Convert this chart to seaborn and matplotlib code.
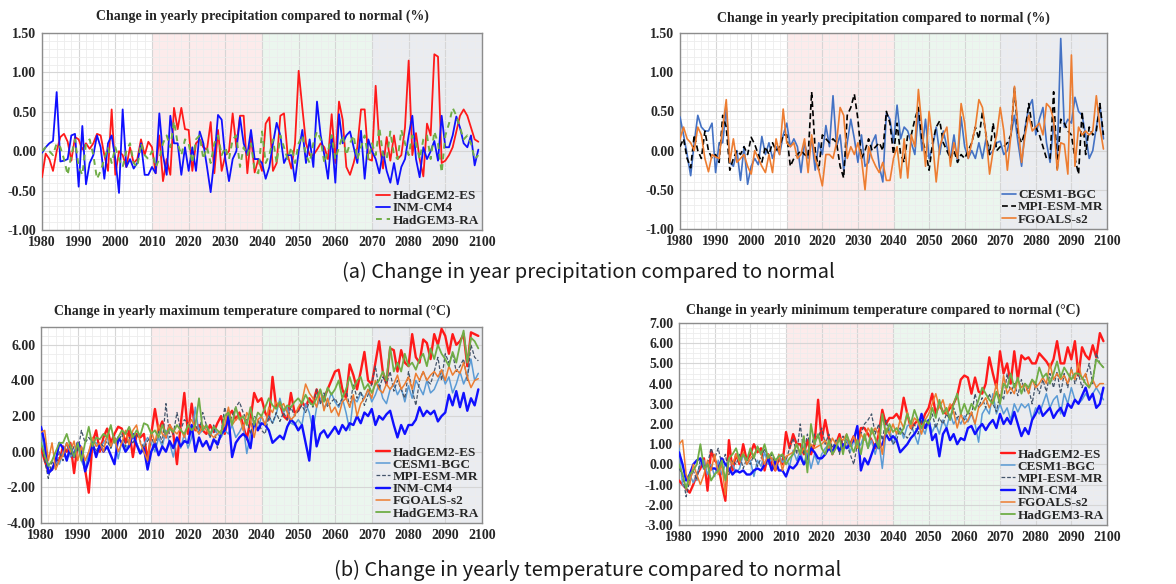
import numpy as np
import matplotlib
matplotlib.use("Agg")
import matplotlib.pyplot as plt
from matplotlib.ticker import MultipleLocator, FormatStrFormatter
import seaborn as sns

YEARS = list(range(1980, 2100))

# ---- (a) precipitation change, left panel ----
PRL_HADGEM2 = [
    -0.33, -0.03, -0.10, -0.25, 0.00, 0.18, 0.22, 0.12, -0.12, 0.18,
    0.15, 0.02, 0.10, 0.03, 0.10, 0.22, 0.20, -0.05, -0.25, 0.53,
    -0.30, 0.00, -0.05, -0.20, 0.05, -0.15, -0.10, 0.15, -0.05, 0.12,
    0.05, -0.28, 0.20, -0.38, -0.10, -0.30, 0.55, 0.28, 0.55, 0.28,
    0.27, -0.25, 0.10, 0.15, 0.05, 0.02, 0.37, -0.28, 0.27, -0.25,
    -0.05, 0.00, 0.48, 0.05, 0.45, 0.45, -0.28, 0.20, -0.27, -0.10,
    -0.25, 0.35, 0.43, -0.25, -0.15, 0.45, 0.48, -0.05, -0.22, 0.10,
    1.02, 0.55, 0.10, -0.05, -0.05, 0.02, 0.10, 0.05, -0.10, 0.47,
    -0.15, 0.63, 0.40, -0.20, -0.30, -0.15, 0.05, 0.53, 0.53, -0.10,
    -0.12, 0.83, 0.10, -0.22, 0.18, -0.12, 0.20, -0.10, -0.05, 0.30,
    1.15, -0.05, 0.23, -0.10, -0.32, 0.35, 0.20, 1.23, 1.20, -0.15,
    -0.12, -0.05, 0.05, 0.25, 0.45, 0.53, 0.45, 0.30, 0.15, 0.12,
]
PRL_INMCM4 = [
    -0.02, 0.05, 0.10, 0.13, 0.75, -0.13, -0.12, -0.10, 0.20, 0.22,
    -0.45, 0.32, -0.42, -0.15, -0.05, 0.20, 0.05, -0.35, 0.10, 0.20,
    -0.10, -0.53, 0.53, -0.20, -0.10, -0.22, -0.15, 0.10, -0.30, -0.30,
    -0.20, -0.28, 0.48, -0.05, -0.30, 0.45, 0.10, 0.10, -0.30, 0.05,
    -0.25, 0.05, -0.25, 0.25, 0.10, -0.20, -0.52, -0.10, 0.46, 0.40,
    -0.10, -0.38, -0.10, 0.00, 0.43, 0.10, -0.05, 0.27, -0.10, -0.10,
    -0.15, -0.35, -0.20, 0.10, 0.36, 0.20, -0.15, -0.05, -0.05, -0.38,
    0.00, 0.27, -0.15, 0.15, -0.20, 0.63, 0.20, -0.05, -0.35, 0.20,
    -0.40, 0.47, 0.10, 0.20, 0.25, 0.05, -0.15, 0.26, -0.35, 0.15,
    0.00, -0.10, -0.28, 0.00, -0.25, -0.40, -0.15, -0.42, -0.20, -0.10,
    0.20, 0.45, -0.10, -0.33, 0.05, -0.10, 0.00, 0.13, -0.12, 0.45,
    0.05, 0.05, 0.20, 0.44, 0.30, 0.10, 0.05, 0.20, -0.18, 0.02,
]
PRL_HADGEM3 = [
    0.00, 0.05, 0.00, -0.05, 0.10, 0.05, -0.10, -0.30, -0.05, 0.15,
    -0.20, -0.30, 0.10, 0.15, -0.05, -0.35, -0.25, -0.10, 0.05, -0.15,
    0.05, -0.10, -0.20, 0.00, 0.10, -0.15, -0.20, 0.10, -0.05, -0.10,
    0.00, -0.20, -0.10, 0.10, 0.20, 0.05, 0.38, 0.10, -0.05, 0.15,
    0.10, -0.15, 0.15, 0.20, -0.10, 0.05, -0.15, 0.10, 0.20, -0.05,
    0.05, -0.10, 0.15, 0.20, -0.20, 0.05, -0.05, 0.10, -0.25, -0.28,
    0.25, -0.15, -0.05, 0.15, -0.15, 0.20, 0.05, -0.10, 0.05, -0.15,
    0.10, 0.20, -0.05, -0.15, 0.10, 0.25, 0.15, -0.15, 0.00, 0.20,
    -0.10, 0.05, 0.20, -0.05, 0.10, 0.20, -0.10, 0.05, 0.20, -0.10,
    0.10, -0.05, 0.30, -0.05, -0.10, 0.25, -0.05, -0.10, 0.27, 0.10,
    -0.05, 0.20, 0.10, -0.10, 0.15, 0.20, -0.10, 0.25, 0.10, -0.27,
    0.20, 0.35, 0.55, 0.45, 0.30, 0.15, 0.20, 0.10, -0.10, -0.05,
]

# ---- (a) precipitation change, right panel ----
PRR_CESM1 = [
    0.43, 0.20, -0.05, -0.32, 0.10, 0.45, 0.30, 0.25, 0.25, 0.35,
    -0.28, 0.10, 0.10, 0.55, -0.15, -0.20, 0.00, -0.38, 0.05, -0.43,
    -0.20, -0.10, -0.18, 0.18, -0.05, 0.10, -0.10, 0.05, -0.05, 0.20,
    0.35, 0.05, 0.15, 0.05, -0.28, 0.10, -0.10, 0.15, -0.25, 0.10,
    -0.05, 0.32, 0.05, 0.70, 0.05, 0.20, -0.25, 0.10, 0.40, 0.15,
    -0.15, 0.20, -0.20, -0.15, 0.10, 0.20, -0.20, -0.40, 0.48, 0.40,
    0.10, 0.58, 0.15, 0.30, 0.25, 0.10, -0.05, 0.50, 0.00, 0.40,
    -0.10, 0.05, 0.30, -0.05, 0.25, 0.05, -0.10, 0.20, -0.15, 0.43,
    0.05, -0.10, 0.00, -0.10, 0.10, -0.10, 0.15, -0.05, 0.00, 0.10,
    0.12, -0.05, 0.00, 0.20, 0.45, 0.10, -0.20, 0.30, 0.55, 0.65,
    0.20, 0.40, 0.55, 0.10, -0.15, 0.35, -0.10, 1.43, 0.30, 0.40,
    0.35, 0.68, 0.50, 0.45, 0.20, -0.10, 0.00, 0.30, 0.58, 0.15,
]
PRR_MPI = [
    0.05, 0.15, -0.10, -0.22, 0.20, 0.00, -0.10, 0.25, 0.00, -0.10,
    -0.05, -0.15, 0.45, 0.30, -0.25, -0.10, 0.00, -0.05, 0.05, -0.05,
    0.17, 0.08, -0.05, -0.15, 0.05, -0.05, 0.10, 0.00, 0.05, 0.20,
    0.20, -0.20, -0.10, -0.05, 0.00, -0.05, -0.08, 0.75, 0.00, -0.25,
    0.20, 0.15, 0.10, 0.15, 0.10, -0.20, -0.35, 0.45, 0.55, 0.72,
    0.40, -0.10, 0.00, 0.15, 0.00, 0.05, 0.10, 0.00, 0.50, 0.35,
    -0.05, 0.35, -0.05, -0.15, 0.20, 0.20, 0.40, 0.55, 0.15, 0.00,
    -0.25, 0.10, 0.30, 0.38, 0.10, 0.00, -0.10, 0.00, -0.15, -0.05,
    -0.10, 0.00, 0.10, 0.30, 0.15, 0.50, 0.20, -0.05, 0.35, 0.00,
    0.05, 0.05, 0.10, 0.20, 0.80, 0.20, 0.10, 0.25, 0.60, 0.30,
    0.30, 0.20, 0.05, -0.10, -0.10, 0.75, -0.25, 0.40, 0.35, 0.25,
    0.20, -0.10, -0.30, 0.50, -0.05, 0.30, 0.20, 0.25, 0.60, 0.20,
]
PRR_FGOALS = [
    0.15, 0.30, 0.15, 0.10, 0.00, 0.30, 0.20, -0.10, -0.27, -0.05,
    -0.08, -0.10, 0.30, 0.65, -0.15, 0.15, -0.15, -0.10, -0.05, -0.20,
    -0.30, 0.00, -0.10, -0.20, -0.28, -0.05, -0.28, 0.15, -0.05, 0.53,
    0.10, 0.05, 0.10, -0.10, -0.05, 0.15, -0.28, 0.20, -0.10, -0.25,
    -0.45, -0.05, -0.05, -0.10, 0.10, 0.55, 0.45, -0.10, 0.05, -0.05,
    0.10, -0.10, -0.50, 0.05, -0.10, -0.20, -0.28, -0.15, -0.38, -0.38,
    -0.10, 0.05, -0.35, 0.15, -0.35, 0.20, 0.05, 0.78, 0.30, -0.20,
    0.50, 0.10, -0.40, 0.05, 0.20, 0.30, -0.20, 0.10, -0.10, 0.60,
    0.35, -0.10, 0.10, 0.30, 0.65, 0.55, 0.20, -0.30, 0.00, 0.20,
    0.55, 0.25, -0.25, 0.20, 0.82, 0.30, -0.15, 0.20, 0.45, 0.25,
    0.30, 0.35, 0.20, 0.60, 0.55, 0.40, -0.25, 0.10, 0.08, -0.30,
    1.22, -0.20, 0.30, 0.20, 0.25, 0.20, 0.25, 0.70, 0.30, 0.02,
]

# ---- (b) maximum temperature change ----
TMX_HADGEM2 = [
    0.2, -0.5, -1.1, -1.0, -0.5, -0.5, 0.3, 0.0, 0.5, -1.2,
    0.5, 0.0, -1.0, -2.3, 0.5, 1.2, 0.0, 0.8, 1.3, 0.5,
    1.0, 1.4, 1.3, 0.5, 1.2, -0.3, 1.0, 0.8, 1.0, -0.5,
    1.0, 2.4, 1.2, 1.7, 0.8, 1.5, 1.0, -0.7, 1.5, 3.3,
    1.0, 2.7, 1.2, 1.5, 1.2, 1.0, 1.5, 1.1, 1.6, 2.0,
    1.0, 2.0, 2.3, 1.8, 2.2, 1.5, 0.7, 1.8, 3.3, 2.8,
    3.0, 2.2, 1.8, 4.2, 2.5, 2.7, 2.0, 1.8, 3.3, 2.2,
    2.3, 2.8, 2.5, 3.0, 2.7, 3.5, 2.8, 3.0, 3.5, 4.0,
    4.5, 4.6, 3.5, 3.0, 4.9, 4.3, 3.5, 4.5, 5.6, 4.0,
    3.8, 5.0, 6.2, 4.5, 3.8, 5.8, 5.7, 4.5, 5.7, 5.0,
    4.8, 6.6, 5.3, 5.0, 6.3, 6.1, 5.2, 6.6, 6.0, 6.9,
    6.5, 5.5, 6.6, 6.0, 6.2, 6.6, 4.8, 6.7, 6.6, 6.5,
]
TMX_CESM1 = [
    1.2, 0.0, -0.8, -1.0, -0.5, -0.7, 0.0, 0.5, -0.3, 0.0,
    0.5, -0.5, -1.0, 0.0, 0.6, 0.5, 0.2, 0.5, 0.8, 0.2,
    0.8, -0.4, 0.6, 0.2, 0.4, 1.0, 0.5, 0.0, 0.4, 0.8,
    0.5, 0.0, 0.8, 0.3, 1.2, 0.5, -0.3, 0.8, 0.2, 1.0,
    0.2, 0.8, 2.5, 1.0, 1.2, 1.5, 0.8, 1.4, 1.0, 0.8,
    1.2, 1.0, 1.5, 0.8, 1.1, 1.5, -0.1, 1.0, 1.5, 1.2,
    2.0, 1.5, 2.0, 1.6, 2.1, 3.0, 2.2, 2.5, 1.6, 1.5,
    1.8, 1.5, 2.7, 2.2, 1.2, 2.5, 3.0, 2.5, 2.7, 3.3,
    2.8, 2.5, 3.0, 2.2, 1.2, 3.0, 2.8, 3.3, 3.0, 3.5,
    2.8, 3.2, 3.8, 3.0, 2.7, 3.5, 3.8, 3.2, 3.6, 2.8,
    3.7, 3.0, 4.0, 3.6, 3.2, 4.0, 3.3, 3.5, 4.0, 4.5,
    3.8, 4.2, 3.3, 3.8, 4.5, 3.8, 4.3, 5.2, 4.0, 4.4,
]
TMX_MPI = [
    0.5, -0.5, -1.5, -0.5, -1.0, 0.0, -0.5, 0.5, -0.2, 0.3,
    0.0, 1.2, 0.5, 0.8, 0.5, 0.0, 0.5, 0.3, 0.6, 0.2,
    0.8, 0.5, 1.0, 0.3, 0.8, 0.5, 1.0, 0.6, 0.2, 0.6,
    0.9, 0.2, 1.2, 0.5, 2.7, 0.8, 1.0, 2.2, 1.2, 1.8,
    1.6, 1.2, 1.5, 1.0, 2.2, 1.5, 0.8, 1.5, 0.2, 1.0,
    2.5, 1.5, 2.0, 2.5, 2.8, 2.2, 1.8, 1.0, 2.0, 1.8,
    1.2, 1.0, 2.0, 1.6, 2.2, 1.7, 2.2, 1.8, 2.5, 2.0,
    2.3, 2.6, 2.2, 2.8, 2.5, 3.5, 2.7, 3.3, 2.5, 2.8,
    3.0, 2.6, 3.0, 3.5, 2.5, 3.8, 3.0, 3.4, 2.6, 3.2,
    3.8, 4.8, 3.5, 4.2, 3.8, 4.5, 3.4, 4.0, 3.5, 3.0,
    4.5, 3.5, 2.6, 4.0, 4.5, 4.0, 3.8, 4.5, 5.3, 4.0,
    5.5, 5.0, 5.5, 4.5, 4.8, 5.2, 4.0, 6.0, 5.3, 5.1,
]
TMX_INMCM4 = [
    1.4, 0.5, -1.2, -1.0, -0.5, 0.5, 0.2, -0.5, 0.3, -0.3,
    0.5, 0.2, -1.1, -0.5, 0.5, -0.3, 0.4, 0.0, 0.3, -0.2,
    -0.7, 0.8, 0.5, 0.0, 0.3, 1.0, 0.4, -0.1, 0.2, -1.0,
    0.0, 0.5, -0.2, 0.3, 0.0, 0.6, 0.2, 0.8, 0.3, 0.6,
    0.5, 1.5, 0.0, 0.8, 0.3, 0.6, 0.1, 0.7, 0.4, 1.0,
    1.2, 2.0, -0.3, 0.5, 0.8, 1.0, 0.8, 0.2, 1.7, 1.2,
    1.6, 1.5, 1.2, 0.5, 0.7, 0.9, 0.7, 1.4, 1.8, 1.6,
    1.2, 1.5, 0.5, -0.5, 2.0, 0.3, 1.0, 1.2, 0.8, 1.1,
    1.4, 1.0, 1.5, 1.2, 1.6, 1.5, 2.0, 1.6, 2.2, 2.0,
    2.4, 1.5, 2.0, 1.8, 2.1, 2.3, 1.5, 0.8, 1.5, 1.0,
    1.5, 1.5, 1.8, 2.5, 2.0, 2.3, 2.1, 2.3, 1.7, 2.0,
    2.2, 3.2, 2.6, 3.4, 2.5, 3.3, 2.3, 3.0, 2.6, 3.5,
]
TMX_FGOALS = [
    1.1, 1.2, -0.5, 0.5, -1.0, -0.5, -0.2, 0.5, 0.0, 0.6,
    -0.5, 0.3, -0.5, 0.0, 0.8, 0.3, 0.5, 0.0, 1.0, 0.3,
    0.8, 0.0, 0.5, 1.2, 0.4, 1.2, 1.5, 0.5, 0.0, -0.5,
    1.2, 0.5, 1.5, 1.0, 0.8, 1.5, 1.2, 1.0, 1.3, 0.8,
    1.5, 1.8, 1.3, 1.0, 1.5, 1.2, 1.0, 0.8, 1.0, 1.2,
    1.5, 2.5, 1.5, 1.8, 2.0, 1.2, 2.2, 1.8, 0.8, 1.8,
    2.0, 1.5, 2.5, 2.2, 2.8, 2.5, 2.7, 2.2, 1.8, 2.0,
    2.5, 2.8, 3.8, 3.3, 3.0, 2.5, 3.5, 2.3, 3.0, 2.2,
    2.5, 2.0, 2.8, 3.0, 2.5, 3.2, 2.0, 2.7, 3.0, 3.5,
    3.0, 4.0, 3.5, 3.3, 3.8, 3.5, 3.8, 4.3, 3.5, 3.8,
    4.2, 3.5, 4.4, 4.0, 4.5, 4.0, 4.3, 4.5, 4.2, 4.6,
    4.0, 4.8, 4.3, 4.6, 4.4, 5.0, 4.2, 3.6, 4.0, 4.1,
]
TMX_HADGEM3 = [
    0.5, -0.2, -0.8, -0.5, 0.0, 0.5, 0.5, 1.0, 0.3, -0.3,
    0.5, -0.5, 0.5, 1.4, 0.3, 0.8, 0.7, 1.0, 0.8, 1.5,
    0.5, 0.8, 1.2, 1.0, 1.4, 0.8, 1.2, 0.9, 1.6, 1.5,
    1.0, 1.2, 0.8, 1.5, 1.0, 1.3, 1.1, 1.5, 1.2, 1.0,
    1.5, 1.2, 1.5, 3.0, 1.2, 1.5, 1.0, 1.4, 1.2, 1.0,
    2.0, 2.2, 1.5, 2.5, 1.8, 2.0, 1.5, 2.5, 1.5, 2.2,
    2.0, 2.5, 3.0, 2.6, 2.4, 2.8, 2.3, 2.6, 2.5, 2.8,
    3.0, 2.7, 3.2, 2.8, 2.6, 3.0, 3.5, 2.8, 3.6, 3.2,
    3.5, 4.0, 3.0, 3.5, 4.2, 3.5, 4.0, 4.2, 3.5, 3.8,
    3.3, 3.8, 4.0, 4.5, 4.0, 5.9, 4.5, 5.0, 4.5, 5.5,
    4.8, 5.0, 4.6, 5.2, 5.5, 4.8, 5.8, 5.2, 6.0, 5.5,
    5.2, 4.8, 5.6, 5.0, 6.0, 6.8, 5.0, 6.4, 6.2, 5.8,
]

# ---- (b) minimum temperature change ----
TMN_HADGEM2 = [
    -0.8, -1.0, -1.2, -1.4, -1.0, -0.5, -0.2, 0.3, -1.3, 0.7,
    0.2, 0.0, -1.0, -1.8, 1.2, -0.3, 0.5, 0.0, 1.0, 0.2,
    0.5, 1.0, 0.6, 0.8, -0.3, 0.5, 0.0, -0.3, 0.3, 0.0,
    1.6, 0.8, 1.5, 1.0, 1.0, 0.5, 1.2, 0.5, 1.0, 3.2,
    1.2, 2.2, 1.3, 0.5, 1.0, 1.5, 0.8, 1.2, 1.0, 1.4,
    1.0, 1.8, 1.8, 1.5, 1.2, 0.8, 1.5, 2.7, 2.0, 2.3,
    2.3, 2.5, 2.2, 3.3, 2.5, 1.8, 2.0, 2.2, 2.0, 2.5,
    2.8, 3.5, 2.5, 3.0, 2.6, 2.5, 2.8, 3.0, 3.4, 4.2,
    4.4, 4.3, 3.5, 4.3, 3.6, 3.5, 4.0, 5.3, 4.5, 3.8,
    5.6, 4.5, 5.0, 4.0, 5.6, 4.2, 5.4, 5.2, 5.3, 5.0,
    5.0, 5.5, 5.3, 5.1, 4.8, 5.2, 6.1, 5.0, 5.0, 5.8,
    5.2, 6.1, 4.4, 5.8, 5.4, 5.2, 5.9, 5.3, 6.5, 6.1,
]
TMN_CESM1 = [
    0.8, -1.0, -1.2, -0.5, -0.9, -0.5, 0.0, 0.2, -0.5, 0.0,
    -0.6, 0.2, -0.5, 0.0, 0.2, 0.0, -0.4, -0.2, 0.5, 0.0,
    0.2, -0.6, 0.2, -0.1, 0.6, 0.0, 0.3, -0.2, 0.5, 0.1,
    0.3, -0.1, 0.7, 0.2, 0.7, 0.0, 0.7, -0.2, 0.5, 0.0,
    0.5, 0.8, 1.0, 0.5, 1.2, 0.7, 0.9, 1.2, 0.6, 1.2,
    0.8, 1.0, 1.5, 0.8, 1.2, 0.5, 1.2, -0.2, 1.5, 1.8,
    1.0, 1.5, 1.8, 1.3, 1.9, 2.0, 1.5, 1.0, 1.9, 1.5,
    2.2, 1.6, 2.0, 1.5, 2.2, 1.8, 2.5, 2.0, 2.3, 2.0,
    2.4, 2.1, 2.5, 2.0, 1.1, 2.5, 2.8, 2.5, 3.5, 2.5,
    3.0, 2.5, 2.8, 2.2, 3.0, 2.6, 3.0, 2.8, 3.0, 2.2,
    2.8, 2.5, 3.0, 3.5, 2.8, 3.2, 3.4, 2.5, 3.5, 3.0,
    3.8, 3.2, 3.0, 3.2, 3.5, 3.2, 3.5, 3.8, 3.5, 3.2,
]
TMN_MPI = [
    -0.2, -0.5, -1.6, -0.8, -0.3, -0.8, 0.3, -0.2, 0.0, 0.8,
    0.3, 0.8, 0.0, 0.5, -0.5, 0.2, 0.0, 0.5, -0.2, 0.3,
    0.0, 0.5, -0.1, 0.3, 0.8, 0.2, 0.5, 0.0, 0.2, 0.5,
    0.2, 0.8, 1.3, 0.5, 2.0, 0.5, 1.5, 0.8, 1.5, 1.3,
    1.8, 1.0, 1.5, 0.8, 1.2, 0.5, 1.4, 1.0, 0.5, 0.0,
    1.0, 1.5, 2.0, 2.2, 2.5, 1.5, 2.0, 1.2, 2.2, 1.5,
    1.0, 1.2, 1.8, 1.5, 1.3, 1.6, 2.0, 1.5, 2.2, 1.8,
    2.0, 2.5, 1.8, 2.3, 2.0, 2.5, 2.2, 2.8, 2.3, 2.5,
    2.2, 2.6, 2.4, 3.5, 2.8, 3.3, 2.8, 3.5, 3.0, 2.6,
    3.5, 3.2, 4.5, 3.5, 4.0, 3.4, 4.2, 3.6, 3.8, 3.0,
    4.0, 3.5, 4.2, 3.6, 4.5, 3.8, 4.6, 3.5, 4.5, 3.8,
    4.8, 4.0, 4.5, 3.8, 4.3, 5.0, 4.0, 5.5, 5.0, 4.8,
]
TMN_INMCM4 = [
    0.6, 0.0, -0.8, -0.5, 0.0, 0.2, 0.3, -0.2, 0.0, -0.2,
    -0.2, -0.3, 0.3, 0.0, -0.2, -0.5, -0.3, -0.4, -0.3, -0.5,
    -0.5, -0.3, -0.2, -0.3, 0.0, 0.3, -0.3, 0.2, -0.3, -0.3,
    -0.6, -0.1, -0.2, 0.0, 0.4, 0.0, 0.3, 0.8, 0.6, 0.3,
    0.3, 0.5, 0.8, 0.6, 1.0, 0.7, 1.0, 0.8, 1.0, 1.2,
    1.9, -0.3, 0.3, 0.0, 0.5, 1.0, 0.8, 1.0, 1.5, 1.2,
    1.4, 1.2, 0.6, 0.8, 1.0, 1.3, 1.5, 1.8, 2.5, 1.8,
    2.2, 1.2, 1.5, 0.4, 1.5, 1.8, 1.2, 1.5, 1.0, 1.3,
    1.2, 1.8, 1.9, 1.5, 1.8, 2.0, 1.7, 2.0, 2.2, 1.8,
    2.5, 2.0, 2.3, 2.0, 2.6, 2.0, 1.4, 1.8, 1.5, 2.2,
    2.5, 2.9, 2.4, 2.6, 2.8, 2.3, 2.6, 2.8, 2.4, 3.0,
    2.8, 3.2, 3.0, 3.4, 3.8, 3.2, 3.5, 2.8, 3.0, 3.8,
]
TMN_FGOALS = [
    1.0, 1.2, -0.5, -1.0, 0.0, -0.5, -1.0, -0.5, 0.2, -0.3,
    0.5, -0.5, 0.0, -1.5, 0.3, 0.0, 0.5, 0.1, 0.6, 0.0,
    0.3, 0.5, 0.8, 0.5, 0.0, 0.5, 0.3, -0.3, 0.5, -0.3,
    0.4, 0.5, 0.6, 1.0, 0.5, 0.8, 0.6, 1.0, 0.8, 0.9,
    1.0, 1.2, 0.8, 1.3, 1.0, 1.3, 1.2, 1.5, 0.9, 1.4,
    0.8, 1.5, 1.2, 1.8, 1.5, 1.8, 1.5, 0.5, 1.8, 1.5,
    2.0, 1.5, 2.2, 1.8, 2.6, 1.8, 2.3, 2.1, 1.5, 2.2,
    2.5, 3.0, 3.5, 2.8, 3.2, 2.5, 3.0, 2.6, 1.8, 2.5,
    2.0, 2.2, 2.6, 2.0, 2.8, 3.0, 3.3, 2.8, 3.2, 4.0,
    3.0, 4.4, 3.5, 3.8, 3.5, 4.2, 3.8, 4.0, 3.5, 4.2,
    3.8, 4.0, 4.3, 4.0, 5.0, 4.2, 4.5, 4.2, 4.4, 4.0,
    4.7, 4.2, 5.0, 4.2, 4.5, 3.8, 4.2, 3.8, 4.0, 4.0,
]
TMN_HADGEM3 = [
    0.0, -0.5, -1.2, -0.5, -0.3, 0.0, 1.0, -0.2, 0.0, -0.8,
    -0.5, -0.3, 0.2, -0.8, 0.3, 0.5, 0.8, 0.2, 0.5, 0.2,
    0.8, 0.3, 0.9, 0.5, 1.0, 0.3, 0.6, 0.2, 0.4, 0.5,
    0.0, 0.3, 0.5, 1.0, 0.5, 1.4, -0.4, 2.0, 1.0, 1.5,
    0.8, 0.5, 1.2, 0.5, 0.8, 1.3, 0.5, 1.5, 1.0, 0.6,
    1.2, 0.5, 1.5, 0.8, 1.8, 1.3, 0.8, 2.5, 1.5, 2.0,
    1.6, 1.8, 1.5, 1.8, 2.5, 2.0, 2.7, 2.2, 1.8, 2.2,
    2.0, 2.8, 2.3, 3.2, 2.5, 2.8, 2.2, 3.0, 3.5, 2.5,
    3.0, 2.5, 3.0, 2.7, 3.2, 3.8, 3.5, 3.2, 3.0, 3.6,
    3.0, 4.0, 3.8, 4.5, 3.8, 4.3, 3.5, 4.0, 3.8, 4.2,
    4.0, 4.8, 4.3, 4.5, 4.0, 4.5, 5.1, 4.3, 4.8, 4.5,
    4.2, 4.5, 4.5, 4.3, 4.0, 3.8, 4.2, 5.2, 5.0, 4.8,
]

# Period bands shaded behind the curves
PERIODS = [(2010, 2040, "#FCEBEB"), (2040, 2070, "#EBF6EE"), (2070, 2100, "#EAECF0")]

RED, BLUE, GREEN = "#FF1A1A", "#1010FF", "#70AD47"
ORANGE, LBLUE, GRAY = "#ED7D31", "#5B9BD5", "#44546A"

SERIF = "Liberation Serif"

sns.set_style("white")
plt.rcParams["font.family"] = ["Liberation Serif", "DejaVu Sans"]

fig = plt.figure(figsize=(11.76, 5.84), dpi=100)
W, H = 1176, 584


def axes_px(left, top, right, bottom):
    return fig.add_axes([left / W, 1 - bottom / H, (right - left) / W, (bottom - top) / H])


def style_axes(ax, ymin, ymax, ymajor, yminor):
    for a, b, c in PERIODS:
        ax.axvspan(a, b, color=c, zorder=0, lw=0)
    ax.set_xlim(1980, 2100)
    ax.set_ylim(ymin, ymax)
    ax.xaxis.set_major_locator(MultipleLocator(10))
    ax.xaxis.set_minor_locator(MultipleLocator(2))
    ax.yaxis.set_major_locator(MultipleLocator(ymajor))
    ax.yaxis.set_minor_locator(MultipleLocator(yminor))
    ax.yaxis.set_major_formatter(FormatStrFormatter("%.2f"))
    ax.set_axisbelow(True)
    ax.grid(which="major", color="#D6D6D6", lw=0.8)
    ax.grid(which="minor", color="#EDEDED", lw=0.6)
    ax.tick_params(which="both", length=0, labelsize=10, pad=4)
    for lab in ax.get_xticklabels() + ax.get_yticklabels():
        lab.set_fontweight("bold")
        lab.set_family(SERIF)
    for sp in ax.spines.values():
        sp.set_visible(True)
        sp.set_color("#8C8C8C")
        sp.set_linewidth(1.0)
    ax.set_xlabel("")
    ax.set_ylabel("")


def draw(ax, series):
    for label, vals, color, lw, ls in series:
        sns.lineplot(x=YEARS, y=vals, ax=ax, color=color, lw=lw, linestyle=ls,
                     label=label, zorder=3, solid_joinstyle="round")
    ax.legend(loc="lower right", frameon=False,
              prop={"family": SERIF, "weight": "bold", "size": 9.5},
              handlelength=1.1, handletextpad=0.15, labelspacing=0.0,
              borderaxespad=0.15, borderpad=0.1)


def title(x, y, text):
    fig.text(x / W, 1 - y / H, text, ha="center", va="center",
             family=[SERIF, "DejaVu Sans"], weight="bold", fontsize=10)


# (a) left
ax1 = axes_px(42, 33, 482, 230)
draw(ax1, [
    ("HadGEM2-ES", PRL_HADGEM2, RED, 1.3, "-"),
    ("INM-CM4", PRL_INMCM4, BLUE, 1.3, "-"),
    ("HadGEM3-RA", PRL_HADGEM3, GREEN, 1.4, (0, (3, 2.5))),
])
style_axes(ax1, -1.0, 1.5, 0.5, 0.1)
title(262, 16, "Change in yearly precipitation compared to normal (%)")

# (a) right
ax2 = axes_px(680, 33, 1107, 229)
draw(ax2, [
    ("CESM1-BGC", PRR_CESM1, "#4472C4", 1.2, "-"),
    ("MPI-ESM-MR", PRR_MPI, "black", 1.2, (0, (3.5, 2))),
    ("FGOALS-s2", PRR_FGOALS, ORANGE, 1.2, "-"),
])
style_axes(ax2, -1.0, 1.5, 0.5, 0.1)
title(883, 18, "Change in yearly precipitation compared to normal (%)")

# (b) left
ax3 = axes_px(41, 327, 482, 523)
draw(ax3, [
    ("HadGEM2-ES", TMX_HADGEM2, RED, 1.7, "-"),
    ("CESM1-BGC", TMX_CESM1, LBLUE, 1.1, "-"),
    ("MPI-ESM-MR", TMX_MPI, GRAY, 0.9, (0, (3, 1.5))),
    ("INM-CM4", TMX_INMCM4, BLUE, 1.7, "-"),
    ("FGOALS-s2", TMX_FGOALS, ORANGE, 1.1, "-"),
    ("HadGEM3-RA", TMX_HADGEM3, GREEN, 1.3, "-"),
])
style_axes(ax3, -4.0, 7.0, 2.0, 0.5)
title(252, 311, "Change in yearly maximum temperature compared to normal (°C)")

# (b) right
ax4 = axes_px(679, 323, 1107, 525)
draw(ax4, [
    ("HadGEM2-ES", TMN_HADGEM2, RED, 1.7, "-"),
    ("CESM1-BGC", TMN_CESM1, LBLUE, 1.1, "-"),
    ("MPI-ESM-MR", TMN_MPI, GRAY, 0.9, (0, (3, 1.5))),
    ("INM-CM4", TMN_INMCM4, BLUE, 1.7, "-"),
    ("FGOALS-s2", TMN_FGOALS, ORANGE, 1.1, "-"),
    ("HadGEM3-RA", TMN_HADGEM3, GREEN, 1.3, "-"),
])
style_axes(ax4, -3.0, 7.0, 1.0, 0.25)
title(883, 310, "Change in yearly minimum temperature compared to normal (°C)")

CAP_FONT = ["Noto Sans CJK KR", "DejaVu Sans"]
fig.text(588 / W, 1 - 272 / H, "(a) Change in year precipitation compared to normal",
         ha="center", va="center", family=CAP_FONT, weight="light", fontsize=14.5,
         color="#1A1A1A")
fig.text(588 / W, 1 - 570 / H, "(b) Change in yearly temperature compared to normal",
         ha="center", va="center", family=CAP_FONT, weight="light", fontsize=14.5,
         color="#1A1A1A")

fig.savefig("out.png", dpi=100, facecolor="white")
